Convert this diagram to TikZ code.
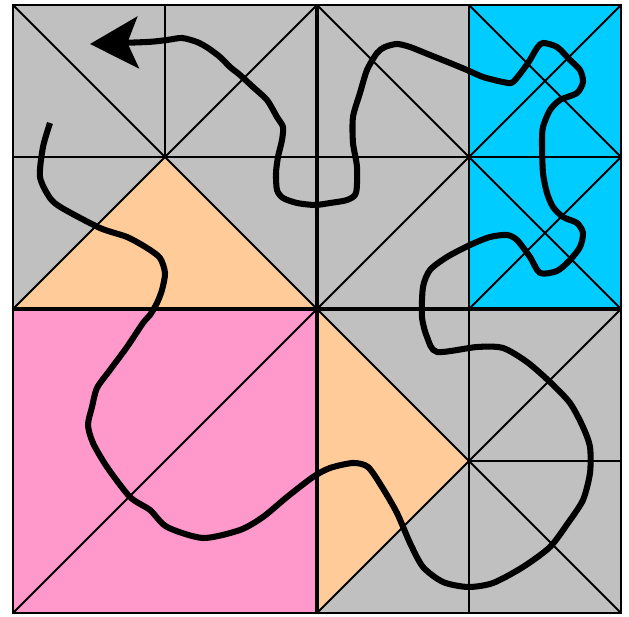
\documentclass[tikz,border=0pt]{standalone}
\usetikzlibrary{arrows.meta}
\definecolor{tilegrey}{HTML}{C0C0C0}
\definecolor{tileorange}{HTML}{FFCC99}
\definecolor{tilepink}{HTML}{FF99CC}
\definecolor{tilecyan}{HTML}{00CCFF}
\tikzset{
  gridline/.style={line width=1.1pt,draw=black},
  divider/.style={line width=2.6pt,draw=black},
  frame/.style={line width=1.3pt,draw=black},
  route/.style={line width=3.4pt,line join=round,draw=black,
                -{Stealth[length=27pt,width=29pt,inset=6pt]}},
}
\begin{document}
\begin{tikzpicture}[x=3cm,y=3cm]
  \useasboundingbox (-0.08553,-0.02632) rectangle (4.05263,4.03289);

  % tiles
  \fill[tilegrey] (0,2) rectangle (3,4);
  \fill[tilegrey] (2,0) rectangle (4,2);
  \fill[tilecyan] (3,2) rectangle (4,4);
  \fill[tilepink] (0,0) rectangle (2,2);
  \fill[tileorange] (0,2) -- (1,3) -- (2,2) -- cycle;
  \fill[tileorange] (2,2) -- (3,1) -- (2,0) -- cycle;

  % top left quadrant
  \draw[gridline] (1,3) -- (1,4) (0,3) -- (2,3) (0,4) -- (2,2) (0,2) -- (2,4);
  % top right quadrant, extra diagonals in the cyan half
  \draw[gridline] (3,2) -- (3,4) (2,3) -- (4,3) (2,4) -- (4,2) (2,2) -- (4,4);
  \draw[gridline] (3,4) -- (4,3) -- (3,2);
  % bottom quadrants
  \draw[gridline] (0,0) -- (2,2);
  \draw[gridline] (3,0) -- (3,2) (3,1) -- (4,1) (2,2) -- (4,0) (2,0) -- (4,2);

  \draw[divider] (2,0) -- (2,4) (0,2) -- (4,2);
  \draw[frame] (0,0) rectangle (4,4);

  % the route, traced in pixel coordinates of the grid
  \begin{scope}[shift={(-0.08553,4.03289)},x=0.19737mm,y=-0.19737mm]
    \draw[route] plot[smooth,tension=0.45] coordinates {
      (50,123) (43,147) (40,177) (50,198) (62,208) (100,228) (127,237)
      (147,248) (160,258) (165,273) (162,290) (157,303) (150,315) (143,323)
      (127,347) (110,370) (97,388) (92,407) (88,425) (93,443) (107,467)
      (130,497) (150,510) (167,527) (203,538) (240,530) (263,517) (287,497)
      (313,477) (330,468) (353,463) (368,467) (382,487) (397,513) (410,543)
      (423,567) (443,582) (468,587) (493,583) (523,567) (550,547) (568,523)
      (583,500) (590,473) (590,447) (583,427) (570,403) (550,382) (527,362)
      (503,348) (477,347) (437,352) (427,337) (422,317) (423,287) (430,270)
      (447,257) (470,245) (490,237) (507,235) (517,240) (530,257) (540,273)
      (557,271) (570,260) (580,247) (583,233) (577,223) (563,217) (553,207)
      (547,193) (543,173) (542,143) (543,127) (550,110) (560,100) (577,93)
      (583,82) (580,70) (570,60) (557,47) (543,43) (537,48) (528,63)
      (513,82) (503,82) (483,77) (467,70) (450,63) (430,55) (410,47)
      (397,44) (385,47) (377,53) (367,70) (360,93) (353,117) (353,143)
      (357,167) (356,193) (347,200) (330,203) (315,205) (297,203) (283,198)
      (277,190) (276,173) (278,157) (282,140) (283,127) (277,117) (267,100)
      (253,87) (240,75) (230,67) (220,57) (208,48) (197,42) (182,38)
      (167,40) (147,42) (90,44)};
  \end{scope}
\end{tikzpicture}
\end{document}
